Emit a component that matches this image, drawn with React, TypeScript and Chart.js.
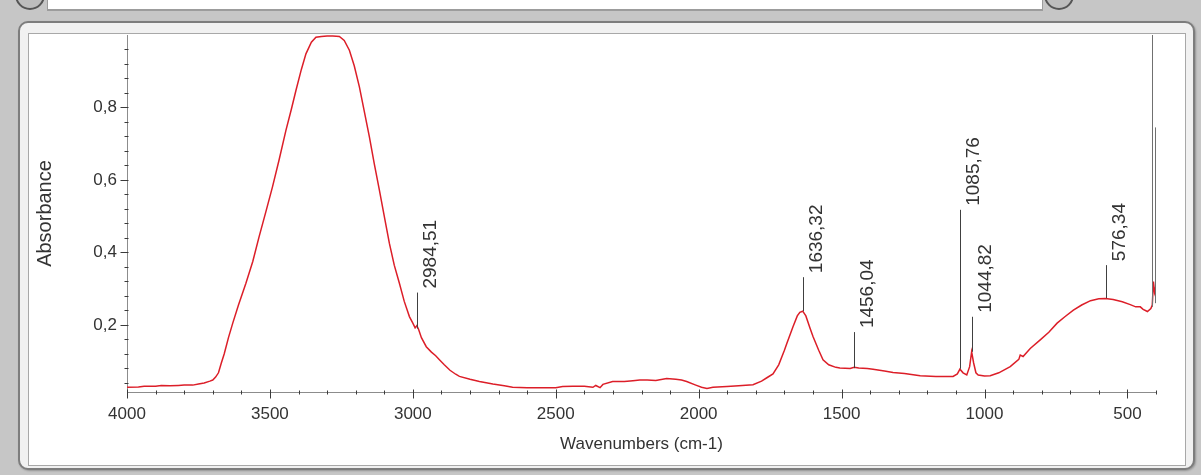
import React, { useEffect, useRef } from "react";
import { Chart, registerables } from "chart.js";
Chart.register(...registerables);

// ---- data ----
const wavenumbers = [
  4000, 3960, 3940, 3900, 3880, 3850, 3820, 3800, 3770, 3750, 3730, 3710, 3700, 3690, 3680, 3670,
  3660, 3645, 3630, 3610, 3584, 3560, 3538, 3515, 3491, 3468, 3444, 3425, 3409, 3390, 3374, 3355,
  3339, 3320, 3300, 3280, 3257, 3240, 3222, 3205, 3187, 3170, 3152, 3135, 3117, 3100, 3082, 3065,
  3047, 3030, 3012, 3000, 2992, 2986, 2980, 2970, 2953, 2935, 2920, 2907, 2890, 2870, 2850, 2837,
  2800, 2767, 2720, 2680, 2651, 2600, 2550, 2500, 2476, 2440, 2400, 2370, 2360, 2345, 2335, 2301,
  2260, 2230, 2206, 2180, 2150, 2112, 2080, 2060, 2042, 2010, 1990, 1971, 1950, 1901, 1860, 1810,
  1780, 1760, 1740, 1720, 1700, 1691, 1670, 1655, 1646, 1636, 1625, 1610, 1600, 1580, 1565, 1545,
  1520, 1506, 1470, 1456, 1440, 1410, 1390, 1350, 1320, 1280, 1225, 1170, 1110, 1095, 1086, 1075,
  1062, 1052, 1045, 1038, 1030, 1022, 1000, 980, 950, 910, 880, 875, 865, 840, 805, 775,
  746, 720, 689, 660, 629, 600, 577, 550, 518, 490, 471, 455, 445, 430, 418, 413,
  409, 405, 402, 400,
];
const absorbance = [
  0.028, 0.029, 0.031, 0.031, 0.033, 0.032, 0.033, 0.034, 0.034, 0.037, 0.040, 0.045, 0.048, 0.056, 0.068, 0.095,
  0.120, 0.165, 0.205, 0.255, 0.315, 0.375, 0.443, 0.510, 0.581, 0.655, 0.737, 0.795, 0.847, 0.905, 0.948, 0.980,
  0.994, 0.996, 0.997, 0.997, 0.996, 0.985, 0.958, 0.915, 0.857, 0.790, 0.719, 0.645, 0.572, 0.500, 0.425, 0.365,
  0.315, 0.265, 0.223, 0.205, 0.192, 0.198, 0.188, 0.165, 0.140, 0.125, 0.115, 0.104, 0.090, 0.075, 0.064, 0.058,
  0.050, 0.044, 0.037, 0.032, 0.028, 0.027, 0.027, 0.027, 0.030, 0.031, 0.031, 0.028, 0.033, 0.027, 0.036, 0.044,
  0.044, 0.046, 0.048, 0.048, 0.047, 0.052, 0.050, 0.048, 0.044, 0.034, 0.028, 0.025, 0.028, 0.030, 0.032, 0.035,
  0.045, 0.055, 0.065, 0.090, 0.130, 0.150, 0.195, 0.225, 0.235, 0.238, 0.225, 0.190, 0.168, 0.130, 0.104, 0.090,
  0.083, 0.081, 0.080, 0.083, 0.081, 0.080, 0.078, 0.073, 0.069, 0.066, 0.060, 0.058, 0.058, 0.065, 0.078, 0.068,
  0.062, 0.085, 0.126, 0.095, 0.068, 0.062, 0.059, 0.060, 0.068, 0.085, 0.105, 0.117, 0.113, 0.135, 0.159, 0.180,
  0.205, 0.222, 0.241, 0.255, 0.267, 0.272, 0.273, 0.270, 0.264, 0.256, 0.250, 0.250, 0.243, 0.237, 0.245, 0.255,
  0.320, 0.290, 0.300, 0.310,
];

const peakWavenumbers = [2984.51, 1636.32, 1456.04, 1085.76, 1044.82, 576.34];
const peakLabels = ["2984,51", "1636,32", "1456,04", "1085,76", "1044,82", "576,34"];
const peakAbsorbance = [0.19, 0.238, 0.081, 0.079, 0.126, 0.274];

// unlabeled marker lines at the low-wavenumber edge
const markerWavenumbers = [413, 405];
const markerBottoms = [0.25, 0.26];
const markerTops = [1.0, 0.745];

const xMajorTicks = [4000, 3500, 3000, 2500, 2000, 1500, 1000, 500];
const yMajorTicks = [0.2, 0.4, 0.6, 0.8];
const xTitle = "Wavenumbers (cm-1)";
const yTitle = "Absorbance";

const FONT = "'Liberation Sans', Arial, sans-serif";

const overlayPlugin = {
  id: "irOverlay",
  afterDatasetsDraw(chart: any) {
    const { ctx, chartArea, scales } = chart;
    const x = scales.x;
    const y = scales.y;
    ctx.save();
    // ticks
    ctx.strokeStyle = "#3a3a3a";
    ctx.lineWidth = 1;
    const yb = Math.round(chartArea.bottom) + 0.5;
    for (let v = 400; v <= 4000; v += 100) {
      const px = Math.round(x.getPixelForValue(v)) + 0.5;
      const major = v % 500 === 0;
      ctx.beginPath();
      ctx.moveTo(px, yb - (major ? 3 : 2));
      ctx.lineTo(px, yb + (major ? 6 : 2));
      ctx.stroke();
    }
    const xl = Math.round(chartArea.left) + 0.5;
    for (let k = 1; k <= 24; k++) {
      const v = k * 0.04;
      const py = Math.round(y.getPixelForValue(v)) + 0.5;
      const major = k % 5 === 0;
      ctx.beginPath();
      ctx.moveTo(xl - (major ? 7 : 3), py);
      ctx.lineTo(xl + 1, py);
      ctx.stroke();
    }
    // peak markers
    const lifts = [36, 34, 36, 159, 35, 33];
    ctx.strokeStyle = "#404040";
    ctx.fillStyle = "#333333";
    ctx.font = `19px ${FONT}`;
    peakWavenumbers.forEach((wn, i) => {
      const px = Math.round(x.getPixelForValue(wn)) + 0.5;
      const pBottom = y.getPixelForValue(peakAbsorbance[i]);
      const pTop = pBottom - lifts[i];
      ctx.beginPath();
      ctx.moveTo(px, pBottom);
      ctx.lineTo(px, pTop);
      ctx.stroke();
      ctx.save();
      ctx.translate(px + 13, pTop - 4);
      ctx.rotate(-Math.PI / 2);
      ctx.textAlign = "left";
      ctx.textBaseline = "middle";
      ctx.fillText(peakLabels[i], 0, 0);
      ctx.restore();
    });
    ctx.strokeStyle = "#707070";
    markerWavenumbers.forEach((wn, i) => {
      const px = Math.round(x.getPixelForValue(wn)) + 0.5;
      ctx.beginPath();
      ctx.moveTo(px, y.getPixelForValue(markerBottoms[i]));
      ctx.lineTo(px, y.getPixelForValue(markerTops[i]));
      ctx.stroke();
    });
    ctx.restore();
  },
};

function IRChart() {
  const ref = useRef<HTMLCanvasElement>(null);
  useEffect(() => {
    const canvas = ref.current!;
    const chart = new Chart(canvas, {
      type: "line",
      data: {
        datasets: [
          {
            data: wavenumbers.map((w, i) => ({ x: w, y: absorbance[i] })),
            borderColor: "#dc1e28",
            borderWidth: 1.5,
            pointRadius: 0,
            tension: 0,
            fill: false,
          },
        ],
      },
      options: {
        animation: false,
        responsive: false,
        devicePixelRatio: 1,
        parsing: false as any,
        layout: { padding: { left: 30, right: 45, top: 35, bottom: 9 } },
        plugins: { legend: { display: false }, tooltip: { enabled: false } },
        scales: {
          x: {
            type: "linear",
            reverse: true,
            min: 400,
            max: 4000,
            afterBuildTicks: (s: any) => {
              s.ticks = xMajorTicks.map((v) => ({ value: v }));
            },
            afterFit: (s: any) => {
              s.height = 74;
            },
            grid: { display: false, drawTicks: false },
            border: { display: true, color: "#8c8c8c", width: 1 },
            ticks: {
              autoSkip: false,
              maxRotation: 0,
              padding: 12,
              color: "#333333",
              font: { family: FONT, size: 17 },
              callback: (v: any) => String(v),
            },
            title: {
              display: true,
              text: xTitle,
              color: "#333333",
              font: { family: FONT, size: 17 },
              padding: { top: 0, bottom: 11 },
            },
          },
          y: {
            type: "linear",
            min: 0.015,
            max: 1.0,
            afterBuildTicks: (s: any) => {
              s.ticks = yMajorTicks.map((v) => ({ value: v }));
            },
            afterFit: (s: any) => {
              s.width = 97;
            },
            grid: { display: false, drawTicks: false },
            border: { display: true, color: "#8c8c8c", width: 1 },
            ticks: {
              autoSkip: false,
              padding: 10,
              color: "#333333",
              font: { family: FONT, size: 17 },
              callback: (v: any) => Number(v).toFixed(1).replace(".", ","),
            },
            title: {
              display: true,
              text: yTitle,
              color: "#333333",
              font: { family: FONT, size: 20 },
              padding: { top: 3, bottom: 0 },
            },
          },
        },
      },
      plugins: [overlayPlugin],
    });
    return () => chart.destroy();
  }, []);
  return (
    <canvas
      ref={ref}
      width={1201}
      height={475}
      style={{ position: "absolute", left: 0, top: 0, width: 1201, height: 475 }}
    />
  );
}

export default function App() {
  return (
    <div
      style={{
        position: "fixed",
        left: 0,
        top: 0,
        width: 1201,
        height: 475,
        background: "#c6c6c6",
        overflow: "hidden",
      }}
    >
      {/* top toolbar remnants */}
      <div
        style={{
          position: "absolute",
          left: 47,
          top: -2,
          width: 994,
          height: 11,
          background: "#ffffff",
          borderBottom: "2px solid #9c9c9c",
          borderLeft: "1px solid #9c9c9c",
          borderRight: "1px solid #9c9c9c",
        }}
      />
      <div
        style={{
          position: "absolute",
          left: 15,
          top: -20,
          width: 26,
          height: 26,
          borderRadius: "50%",
          border: "2px solid #555",
          background: "#bdbdbd",
        }}
      />
      <div
        style={{
          position: "absolute",
          left: 1044,
          top: -20,
          width: 26,
          height: 26,
          borderRadius: "50%",
          border: "2px solid #555",
          background: "#bdbdbd",
        }}
      />
      {/* outer panel */}
      <div
        style={{
          position: "absolute",
          left: 18,
          top: 21,
          width: 1173,
          height: 445,
          borderRadius: 10,
          border: "2px solid #7d7d7d",
          background: "#f1f1f1",
          boxShadow: "1px 1px 2px rgba(0,0,0,0.25)",
        }}
      />
      {/* inner white plot panel */}
      <div
        style={{
          position: "absolute",
          left: 28,
          top: 33,
          width: 1156,
          height: 431,
          border: "1px solid #a8a8a8",
          background: "#ffffff",
        }}
      />
      <IRChart />
    </div>
  );
}
